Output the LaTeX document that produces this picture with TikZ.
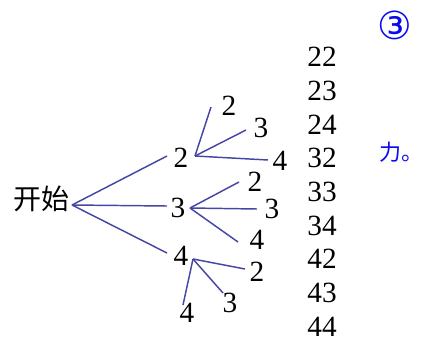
\documentclass[tikz,border=0pt]{standalone}
\usepackage{fontspec}
\setmainfont{Liberation Serif}
\newfontfamily\serifnum{Liberation Serif}
\newfontfamily\cjk{Noto Sans CJK SC}
\newfontfamily\dvs{DejaVu Sans}
\definecolor{lineblue}{RGB}{70,70,165}
\definecolor{txtblue}{RGB}{10,10,240}
\begin{document}
\begin{tikzpicture}[x=0.75pt,y=-0.75pt,
  num/.style={inner sep=0pt,font=\serifnum\fontsize{22}{22}\selectfont},
  branch/.style={draw=lineblue,line width=1.1pt}]
\useasboundingbox (0,0) rectangle (424,343);
% root
\node[inner sep=0pt,font=\cjk\fontsize{21}{21}\selectfont] (start) at (41,199) {开始};
\coordinate (r) at (72,205);
% level 1
\node[num] (n2) at (181,158) {2};
\node[num] (n3) at (178,208) {3};
\node[num] (n4) at (181,256) {4};
\coordinate (e2) at (167,156);
\coordinate (e3) at (167,206);
\coordinate (e4) at (167,253);
\draw[branch] (r) -- (e2);
\draw[branch] (r) -- (e3);
\draw[branch] (r) -- (e4);
% level 2 from 2
\coordinate (c2) at (195,156);
\node[num] (a2) at (229,106) {2};
\node[num] (a3) at (261,128) {3};
\node[num] (a4) at (280,161) {4};
\coordinate (a2e) at (211,107);
\coordinate (a3e) at (246,130);
\coordinate (a4e) at (268,160);
\draw[branch] (c2) -- (a2e);
\draw[branch] (c2) -- (a3e);
\draw[branch] (c2) -- (a4e);
% level 2 from 3
\coordinate (c3) at (190,208);
\node[num] (b2) at (255,182) {2};
\node[num] (b3) at (272,209) {3};
\node[num] (b4) at (257,240) {4};
\coordinate (b2e) at (239,182);
\coordinate (b3e) at (257,209);
\coordinate (b4e) at (238,242);
\draw[branch] (c3) -- (b2e);
\draw[branch] (c3) -- (b3e);
\draw[branch] (c3) -- (b4e);
% level 2 from 4
\coordinate (c4) at (193,259);
\node[num] (d2) at (257,272) {2};
\node[num] (d3) at (230,303) {3};
\node[num] (d4) at (187,313) {4};
\coordinate (d2e) at (245,269);
\coordinate (d3e) at (223,293);
\coordinate (d4e) at (183,305);
\draw[branch] (c4) -- (d2e);
\draw[branch] (c4) -- (d3e);
\draw[branch] (c4) -- (d4e);
% results column
\foreach \t [count=\i from 0] in {22,23,24,32,33,34,42,43,44}
  \node[num] (res\i) at (322,57+33.7*\i) {\t};
% blue texts
\node[inner sep=0pt,text=txtblue,font=\dvs\fontsize{29}{29}\selectfont] (circ) at (395,25) {③};
\node[inner sep=0pt,text=txtblue,font=\cjk\fontsize{16.5}{16.5}\selectfont,anchor=west] (li) at (379,152) {力。};
\end{tikzpicture}
\end{document}
